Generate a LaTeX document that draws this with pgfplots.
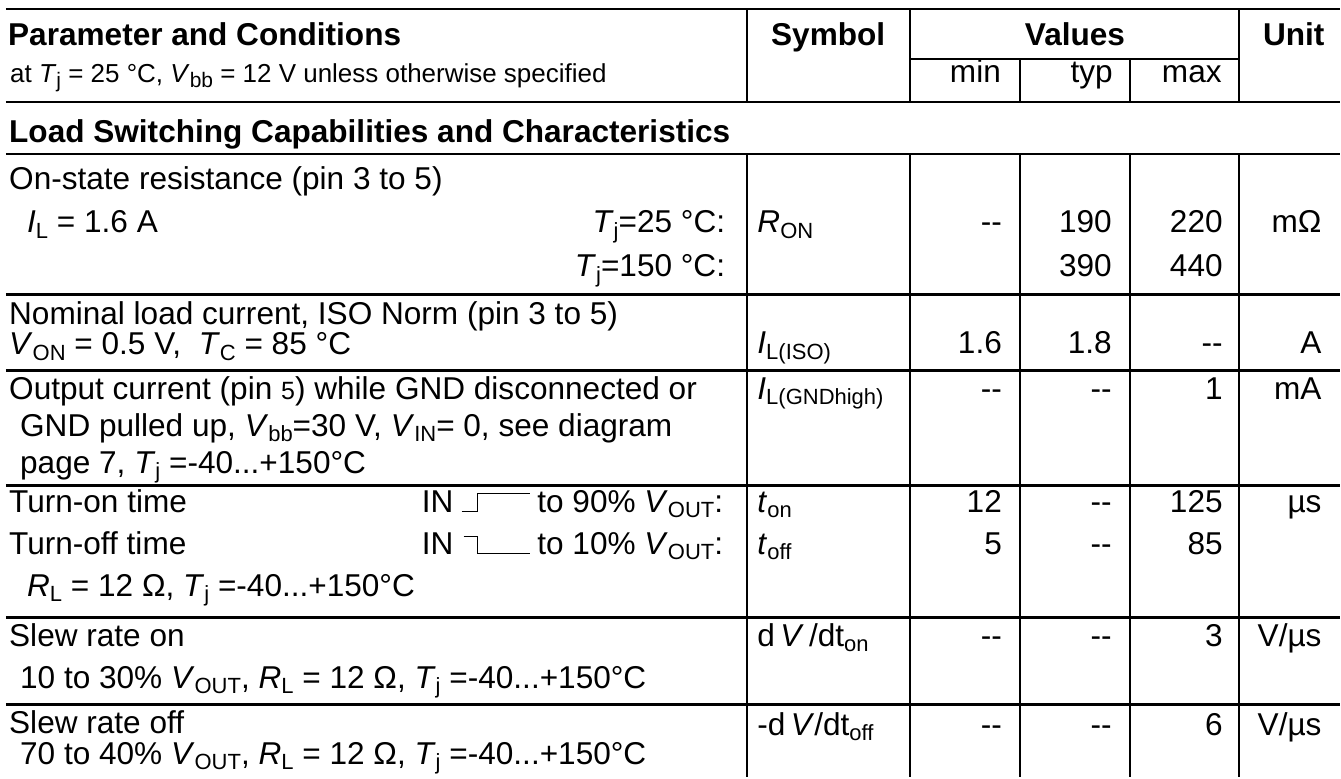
\documentclass[border=0pt]{standalone}
\usepackage{pgfplots}
\pgfplotsset{compat=1.18}
\usepackage{fontspec}
\setmainfont{Liberation Sans}
\newcommand\fb{\fontsize{31.6pt}{38pt}\selectfont}
\newcommand\sub[1]{\raisebox{-0.17em}{\fontsize{22pt}{24pt}\selectfont #1}}
\newcommand\subh[1]{\raisebox{-0.16em}{\fontsize{21pt}{24pt}\selectfont #1}}
\newcommand\dd{\mbox{-}\mbox{-}}
\tikzset{
  L/.style={anchor=base west, inner sep=0pt, font=\fb},
  R/.style={anchor=base east, inner sep=0pt, font=\fb},
  C/.style={anchor=base, inner sep=0pt, font=\fb},
  B/.style={font=\fb\bfseries}
}
\begin{document}
\begin{tikzpicture}
\begin{axis}[x=1pt, y=1pt, y dir=reverse, xmin=0, xmax=1341, ymin=0, ymax=778,
  hide axis, clip=false, scale only axis, unbounded coords=jump]
% background
\addplot[draw=none, fill=white] coordinates {(0,0) (1341,0) (1341,778) (0,778)};
% horizontal rules
\addplot[black, line width=2.6pt] coordinates {
 (6,9) (1341,9) (nan,nan)
 (6,102) (1341,102) (nan,nan)
 (6,154) (1341,154) (nan,nan)
 (6,295) (1341,295) (nan,nan)
 (6,371) (1341,371) (nan,nan)
 (6,486) (1341,486) (nan,nan)
 (6,618) (1341,618) (nan,nan)
 (6,705) (1341,705)};
\addplot[black, line width=2pt] coordinates {(911,59.5) (1240,59.5)};
% vertical rules
\addplot[black, line width=2pt] coordinates {
 (748,9) (748,102) (nan,nan) (748,154) (748,778) (nan,nan)
 (911,9) (911,102) (nan,nan) (911,154) (911,778) (nan,nan)
 (1021,59.5) (1021,102) (nan,nan) (1021,154) (1021,778) (nan,nan)
 (1131,59.5) (1131,102) (nan,nan) (1131,154) (1131,778) (nan,nan)
 (1240,9) (1240,102) (nan,nan) (1240,154) (1240,778)};
% pulse symbols
\addplot[black, line width=1.6pt] coordinates {(462,512) (478,512) (478,494) (531,494)};
\addplot[black, line width=1.6pt] coordinates {(464,537) (478,537) (478,554) (531,554)};

% header
\node[L,B] at (axis cs:8,46) {Parameter and Conditions};
\node[L,font=\fontsize{26pt}{30pt}\selectfont] at (axis cs:10,83) {at \textit{T}\subh{j} = 25 °C, \textit{V}\subh{bb} = 12 V unless otherwise specified};
\node[C,B] at (axis cs:829,46) {Symbol};
\node[C,B] at (axis cs:1076,46) {Values};
\node[C,B] at (axis cs:1295,46) {Unit};
\node[R] at (axis cs:1002,83) {min};
\node[R] at (axis cs:1114,83) {typ};
\node[R] at (axis cs:1223,83) {max};
% section
\node[L,B] at (axis cs:9,143) {Load Switching Capabilities and Characteristics};
% row A
\node[L] at (axis cs:9,190) {On-state resistance (pin 3 to 5)};
\node[L] at (axis cs:27,233) {\textit{I}\sub{L} = 1.6 A};
\node[R] at (axis cs:726,233) {\textit{T}\sub{j}=25 °C:};
\node[R] at (axis cs:726,277) {\textit{T}\sub{j}=150 °C:};
\node[L] at (axis cs:758,233) {\textit{R}\sub{ON}};
\node[R] at (axis cs:1003,233) {\dd};
\node[R] at (axis cs:1113,233) {190};
\node[R] at (axis cs:1224,233) {220};
\node[R] at (axis cs:1323,233) {mΩ};
\node[R] at (axis cs:1113,277) {390};
\node[R] at (axis cs:1224,277) {440};
% row B
\node[L] at (axis cs:9,325) {Nominal load current, ISO Norm (pin 3 to 5)};
\node[L] at (axis cs:9,355) {\textit{V}\sub{ON} = 0.5 V,\ \ \textit{T}\sub{C} = 85 °C};
\node[L] at (axis cs:758,354) {\textit{I}\sub{L(ISO)}};
\node[R] at (axis cs:1003,354) {1.6};
\node[R] at (axis cs:1113,354) {1.8};
\node[R] at (axis cs:1224,354) {\dd};
\node[R] at (axis cs:1323,354) {A};
% row C
\node[L] at (axis cs:9,400) {Output current (pin {\fontsize{25pt}{28pt}\selectfont 5}) while GND disconnected or};
\node[L] at (axis cs:20,437) {GND pulled up, \textit{V}\sub{bb}=30 V, \textit{V}\sub{IN}= 0, see diagram};
\node[L] at (axis cs:20,474) {page 7, \textit{T}\sub{j} =-40...+150°C};
\node[L] at (axis cs:758,400) {\textit{I}\sub{L(GNDhigh)}};
\node[R] at (axis cs:1003,400) {\dd};
\node[R] at (axis cs:1113,400) {\dd};
\node[R] at (axis cs:1224,400) {1};
\node[R] at (axis cs:1323,400) {mA};
% row D
\node[L] at (axis cs:9,513) {Turn-on time};
\node[L] at (axis cs:9,555) {Turn-off time};
\node[L] at (axis cs:422,513) {IN};
\node[L] at (axis cs:422,555) {IN};
\node[R] at (axis cs:724,513) {to 90\% \textit{V}\sub{OUT}:};
\node[R] at (axis cs:724,555) {to 10\% \textit{V}\sub{OUT}:};
\node[L] at (axis cs:27,597) {\textit{R}\sub{L} = 12 Ω, \textit{T}\sub{j} =-40...+150°C};
\node[L] at (axis cs:758,513) {\textit{t}\sub{on}};
\node[L] at (axis cs:758,555) {\textit{t}\sub{off}};
\node[R] at (axis cs:1003,513) {12};
\node[R] at (axis cs:1113,513) {\dd};
\node[R] at (axis cs:1224,513) {125};
\node[R] at (axis cs:1323,513) {µs};
\node[R] at (axis cs:1003,555) {5};
\node[R] at (axis cs:1113,555) {\dd};
\node[R] at (axis cs:1224,555) {85};
% row E
\node[L] at (axis cs:9,647) {Slew rate on};
\node[L] at (axis cs:20,689) {10 to 30\% \textit{V}\sub{OUT}, \textit{R}\sub{L} = 12 Ω, \textit{T}\sub{j} =-40...+150°C};
\node[L] at (axis cs:758,647) {d\,\textit{V}\,/dt\sub{on}};
\node[R] at (axis cs:1003,647) {\dd};
\node[R] at (axis cs:1113,647) {\dd};
\node[R] at (axis cs:1224,647) {3};
\node[R] at (axis cs:1323,647) {V/µs};
% row F
\node[L] at (axis cs:9,734) {Slew rate off};
\node[L] at (axis cs:20,765) {70 to 40\% \textit{V}\sub{OUT}, \textit{R}\sub{L} = 12 Ω, \textit{T}\sub{j} =-40...+150°C};
\node[L] at (axis cs:758,736) {-d\,\textit{V}/dt\sub{off}};
\node[R] at (axis cs:1003,736) {\dd};
\node[R] at (axis cs:1113,736) {\dd};
\node[R] at (axis cs:1224,736) {6};
\node[R] at (axis cs:1323,736) {V/µs};
\end{axis}
\end{tikzpicture}
\end{document}
